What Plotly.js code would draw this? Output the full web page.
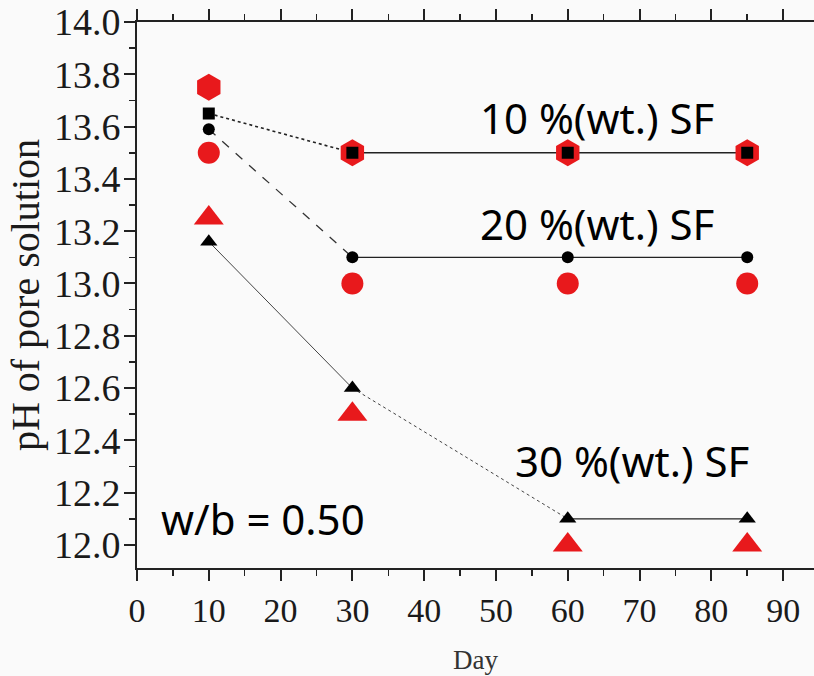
<!DOCTYPE html>
<html><head><meta charset="utf-8">
<script src="https://cdn.plot.ly/plotly-3.0.1.min.js"></script>
<style>html,body{margin:0;padding:0;background:#fff}</style>
</head><body><div id="chart" style="width:814px;height:676px"></div>
<script>
const days = [10, 30, 60, 85];
// 10 %(wt.) SF
const sf10Black = [13.65, 13.5, 13.5, 13.5];
const sf10Red = [13.75, 13.5, 13.5, 13.5];
// 20 %(wt.) SF
const sf20Black = [13.59, 13.1, 13.1, 13.1];
const sf20Red = [13.5, 13.0, 13.0, 13.0];
// 30 %(wt.) SF
const sf30Black = [13.16, 12.6, 12.1, 12.1];
const sf30Red = [13.25, 12.5, 12.0, 12.0];
const labels = ["10 %(wt.) SF", "20 %(wt.) SF", "30 %(wt.) SF", "w/b = 0.50"];
const xTicks = [0, 10, 20, 30, 40, 50, 60, 70, 80, 90];
const yTicks = [12, 12.2, 12.4, 12.6, 12.8, 13, 13.2, 13.4, 13.6, 13.8, 14];
const yTickText = ['12.0','12.2','12.4','12.6','12.8','13.0','13.2','13.4','13.6','13.8','14.0'];

function seg(ys, i, j, dash, color, width) {
  return {x: days.slice(i, j + 1), y: ys.slice(i, j + 1), mode: 'lines', type: 'scatter',
    line: {color: color, dash: dash, width: width}, hoverinfo: 'skip', showlegend: false};
}
function pts(ys, symbol, color, size) {
  return {x: days, y: ys, mode: 'markers', type: 'scatter', showlegend: false,
    marker: {symbol: symbol, color: color, size: size, line: {width: 0}}};
}
const red = '#e8191c';
const traces = [
  seg(sf10Black, 0, 1, 'dot', '#222', 1.6),
  seg(sf10Black, 1, 3, 'solid', '#222', 1.3),
  seg(sf20Black, 0, 1, 'dash', '#333', 1.3),
  seg(sf20Black, 1, 3, 'solid', '#222', 1.3),
  seg(sf30Black, 0, 1, 'solid', '#444', 1.0),
  seg(sf30Black, 1, 2, 'dot', '#444', 1.0),
  seg(sf30Black, 2, 3, 'solid', '#222', 1.3),
  pts(sf10Red, 'hexagon', red, 27),
  pts(sf20Red, 'circle', red, 22),
  pts(sf30Red, 'triangle-up', red, 26),
  pts(sf10Black, 'square', '#000', 12),
  pts(sf20Black, 'circle', '#000', 12),
  pts(sf30Black, 'triangle-up', '#000', 15)
];
const SERIF = '"Times New Roman", "Liberation Serif", "DejaVu Serif", serif';
function afont() { return {family: '"Noto Sans", sans-serif', size: 42, color: '#000'}; }
const layout = {
  width: 814, height: 676,
  margin: {l: 137, r: 0, t: 22, b: 108},
  font: {family: SERIF, color: '#1a1a1a'},
  paper_bgcolor: '#fafafa', plot_bgcolor: '#fafafa',
  showlegend: false,
  xaxis: {range: [0, 94.3], tickvals: xTicks, ticks: 'outside', ticklen: 11, tickwidth: 2,
    tickcolor: '#222', showline: true, linecolor: '#222', linewidth: 2, mirror: 'allticks', showgrid: false, zeroline: false,
    minor: {dtick: 5, ticks: 'outside', ticklen: 6, tickwidth: 1.5, tickcolor: '#222'},
    tickfont: {family: SERIF, size: 34, color: '#1a1a1a'},
    title: {text: 'Day', font: {family: SERIF, size: 27, color: '#333'}, standoff: 22}},
  yaxis: {range: [11.912, 14.0], tickvals: yTicks, ticktext: yTickText,
    ticks: 'outside', ticklen: 11, tickwidth: 2, tickcolor: '#222', showline: true, linecolor: '#222', linewidth: 2,
    showgrid: false, zeroline: false, minor: {dtick: 0.1, ticks: 'outside', ticklen: 6, tickwidth: 1.5, tickcolor: '#222'},
    ticklabelstandoff: -4,
    tickfont: {family: SERIF, size: 38, color: '#1a1a1a'},
    title: {text: 'pH of pore solution', font: {family: SERIF, size: 40, color: '#1a1a1a'}, standoff: 2}},
  annotations: [
    {x: 64.1, y: 13.635, xref: 'x', yref: 'y', text: labels[0], showarrow: false, font: afont()},
    {x: 64.1, y: 13.23, xref: 'x', yref: 'y', text: labels[1], showarrow: false, font: afont()},
    {x: 69, y: 12.325, xref: 'x', yref: 'y', text: labels[2], showarrow: false, font: afont()},
    {x: 17.6, y: 12.1, xref: 'x', yref: 'y', text: labels[3], showarrow: false, font: afont()}
  ]
};
Plotly.newPlot('chart', traces, layout, {displayModeBar: false, staticPlot: true});
</script></body></html>
